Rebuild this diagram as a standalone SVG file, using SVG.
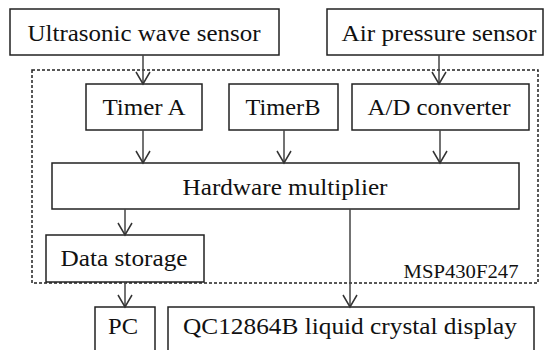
<svg xmlns="http://www.w3.org/2000/svg" width="544" height="350" viewBox="0 0 544 350">
<style>
.box{fill:#fff;stroke:#222;stroke-width:1.5}
text{font-family:"Liberation Serif","Times New Roman",Times,"DejaVu Serif","Noto Serif",serif;fill:#111;text-anchor:middle}
.t{font-size:24px}
.lbl{font-size:19px}
.c{stroke:#444;stroke-width:1.5;fill:none;marker-end:url(#arr)}
</style>
<defs>
<marker id="arr" markerUnits="userSpaceOnUse" viewBox="-14 -9 16 18" markerWidth="16" markerHeight="18" refX="0" refY="0" orient="auto">
<path d="M-12,-7 L0,0 L-12,7" fill="none" stroke="#333" stroke-width="1.5"/>
</marker>
</defs>
<rect width="544" height="350" fill="#fff"/>
<g id="msp430">
<rect x="32" y="70" width="506" height="213" fill="none" stroke="#222" stroke-width="1.5" stroke-dasharray="3,2"/>
<text class="lbl" x="461" y="278" textLength="115" lengthAdjust="spacingAndGlyphs">MSP430F247</text>
</g>
<g id="ultrasonic"><rect class="box" x="10" y="9" width="269" height="46"/><text class="t" x="144" y="41" textLength="233" lengthAdjust="spacingAndGlyphs">Ultrasonic wave sensor</text></g>
<g id="airpressure"><rect class="box" x="327" y="9" width="216" height="46"/><text class="t" x="439" y="41" textLength="195" lengthAdjust="spacingAndGlyphs">Air pressure sensor</text></g>
<g id="timerA"><rect class="box" x="86" y="84" width="116" height="46"/><text class="t" x="144" y="115" textLength="83" lengthAdjust="spacingAndGlyphs">Timer A</text></g>
<g id="timerB"><rect class="box" x="229" y="84" width="109" height="46"/><text class="t" x="283" y="115" textLength="75" lengthAdjust="spacingAndGlyphs">TimerB</text></g>
<g id="adconv"><rect class="box" x="352" y="84" width="177" height="46"/><text class="t" x="439" y="115" textLength="143" lengthAdjust="spacingAndGlyphs">A/D converter</text></g>
<g id="hwmult"><rect class="box" x="52" y="163" width="467" height="46"/><text class="t" x="285" y="195" textLength="205" lengthAdjust="spacingAndGlyphs">Hardware multiplier</text></g>
<g id="datastorage"><rect class="box" x="46" y="235" width="158" height="47"/><text class="t" x="124" y="266" textLength="127" lengthAdjust="spacingAndGlyphs">Data storage</text></g>
<g id="pc"><rect class="box" x="95" y="307" width="60" height="50"/><text class="t" x="123" y="334" textLength="30" lengthAdjust="spacingAndGlyphs">PC</text></g>
<g id="lcd"><rect class="box" x="168" y="307" width="366" height="50"/><text class="t" x="350" y="334" textLength="334" lengthAdjust="spacingAndGlyphs">QC12864B liquid crystal display</text></g>
<g id="connectors">
<line class="c" x1="143" y1="55" x2="143" y2="84"/>
<line class="c" x1="439" y1="55" x2="439" y2="84"/>
<line class="c" x1="143" y1="130" x2="143" y2="163"/>
<line class="c" x1="284" y1="130" x2="284" y2="163"/>
<line class="c" x1="440" y1="130" x2="440" y2="163"/>
<line class="c" x1="125" y1="209" x2="125" y2="235"/>
<line class="c" x1="350" y1="209" x2="350" y2="307"/>
<line class="c" x1="125" y1="282" x2="125" y2="307"/>
</g>
</svg>
